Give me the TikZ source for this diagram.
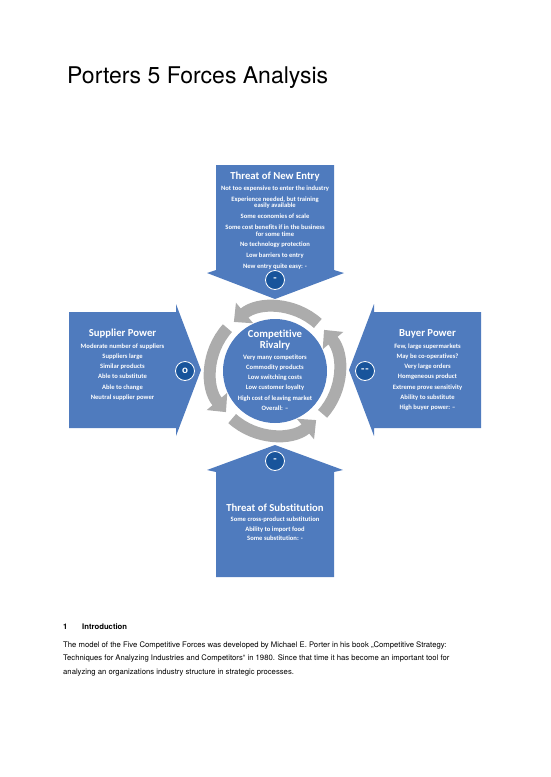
\documentclass[tikz,border=0pt]{standalone}
\usepackage{fontspec}
\setmainfont{TeX Gyre Heros}
\newfontfamily\boxfont[Ligatures={NoCommon}]{Carlito}
\usetikzlibrary{arrows.meta}
\definecolor{forceblue}{RGB}{79,123,190}
\definecolor{badgeblue}{RGB}{24,84,155}
\definecolor{ringgray}{RGB}{172,172,172}
\tikzset{
  force/.style={fill=forceblue, draw=none},
  forcehead/.style={text=white, font=\boxfont\bfseries\fontsize{10.7}{10.5}\selectfont, align=center, inner sep=0pt},
  forceitems/.style={text=white, font=\boxfont\bfseries\fontsize{6.6}{6.8}\selectfont, align=center, inner sep=0pt, anchor=north},
  badge/.style={circle, fill=badgeblue, draw=white, line width=0.8pt, minimum size=19pt, inner sep=0pt, text=white, font=\boxfont\bfseries\fontsize{11}{11}\selectfont},
  ringarc/.style={draw=ringgray, line width=12pt, -{Triangle[width=26pt,length=14pt]}}
}
\begin{document}
\begin{tikzpicture}[x=1pt, y=-1pt]
  \useasboundingbox (0,0) rectangle (550,777);

  % title
  \node[anchor=base west, inner sep=0pt, font=\fontsize{23}{23}\selectfont] (title) at (67,83) {Porters 5 Forces Analysis};

  % the five forces
  \fill[force] (216,165) -- (334,165) -- (334,270) -- (344,273) -- (275,299) -- (207,273) -- (216,270) -- cycle;
  \fill[force] (69,312) -- (176,312) -- (176,304) -- (201,370) -- (176,436) -- (176,428) -- (69,428) -- cycle;
  \fill[force] (481,312) -- (374,312) -- (374,304) -- (349,370) -- (374,436) -- (374,428) -- (481,428) -- cycle;
  \fill[force] (275,445) -- (343,470) -- (334,472) -- (334,577) -- (216,577) -- (216,472) -- (207,470) -- cycle;

  % rivalry ring
  \coordinate (hub) at (275,371);
  \foreach \a in {42,-48,-138,-228}
    \draw[ringarc] ([shift={(hub)}]\a:64) arc[start angle=\a, end angle=\a-82, radius=64];
  \fill[forceblue] (hub) circle[radius=52];

  % texts
  \node[forcehead] (entryhead) at (275,177) {Threat of New Entry};
  \node[forceitems] (entry) at (275,185.5) {Not too expensive to enter the industry\\[3.9pt]
    Experience needed, but training\\ easily available\\[3.9pt]
    Some economies of scale\\[3.9pt]
    Some cost benefits if in the business\\ for some time\\[3.9pt]
    No technology protection\\[3.9pt]
    Low barriers to entry\\[3.9pt]
    New entry quite easy: -};

  \node[forcehead] (supplierhead) at (122.5,334) {Supplier Power};
  \node[forceitems] (supplier) at (122.5,343.5) {Moderate number of suppliers\\[3.4pt]
    Suppliers large\\[3.4pt]
    Similar products\\[3.4pt]
    Able to substitute\\[3.4pt]
    Able to change\\[3.4pt]
    Neutral supplier power};

  \node[forcehead] (buyerhead) at (427.5,334) {Buyer Power};
  \node[forceitems] (buyer) at (427.5,343.5) {Few, large supermarkets\\[3.4pt]
    May be co-operatives?\\[3.4pt]
    Very large orders\\[3.4pt]
    Homgeneous product\\[3.4pt]
    Extreme prove sensitivity\\[3.4pt]
    Ability to substitute\\[3.4pt]
    High buyer power: \textendash};

  \node[forcehead] (rivalryhead) at (275,340) {Competitive\\Rivalry};
  \node[forceitems] (rivalry) at (275,354.5) {Very many competitors\\[3.4pt]
    Commodity products\\[3.4pt]
    Low switching costs\\[3.4pt]
    Low customer loyalty\\[3.4pt]
    High cost of leaving market\\[3.4pt]
    Overall: \textendash};

  \node[forcehead] (substhead) at (275,508) {Threat of Substitution};
  \node[forceitems] (subst) at (275,516.5) {Some cross-product substitution\\[3pt]
    Ability to import food\\[3pt]
    Some substitution: -};

  % ratings
  \node[badge] (entryrate) at (275,280) {-};
  \node[badge] (supplierrate) at (185,371) {o};
  \node[badge] (buyerrate) at (365,371) {-\hspace{1pt}-};
  \node[badge] (substrate) at (275,461) {-};

  % introduction
  \node[anchor=base west, inner sep=0pt, font=\bfseries\fontsize{7.7}{9}\selectfont] (secno) at (63,629) {1};
  \node[anchor=base west, inner sep=0pt, font=\bfseries\fontsize{7.7}{9}\selectfont] (sectitle) at (82,629) {Introduction};
  \node[anchor=north west, inner sep=0pt, align=left, font=\fontsize{7.7}{13.5}\selectfont] (intro) at (63,641.5) {The model of the Five Competitive Forces was developed by Michael E. Porter in his book \quotedblbase Competitive Strategy:\\
    Techniques for Analyzing Industries and Competitors\textquotedblleft{} in 1980. Since that time it has become an important tool for\\
    analyzing an organizations industry structure in strategic processes.};
\end{tikzpicture}
\end{document}
